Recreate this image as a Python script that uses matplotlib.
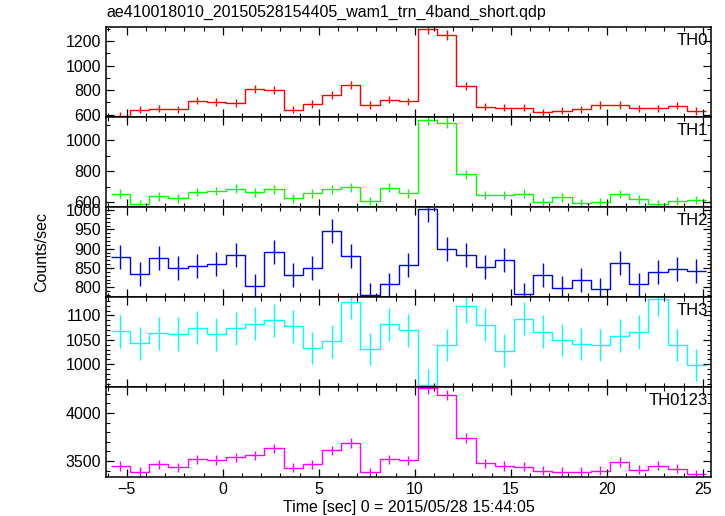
import numpy as np
import matplotlib
matplotlib.use("Agg")
import matplotlib.pyplot as plt
from matplotlib.ticker import MultipleLocator

plt.rcParams["font.family"] = ["Liberation Sans", "DejaVu Sans"]

# bin centres (s), 1 s bins
t_first = -5.33
bin_w = 1.0
n_bins = 31

th0 = [594, 641, 649, 643, 715, 706, 698, 810, 805, 641, 690, 764, 846, 682, 723, 709,
       1296, 1249, 837, 666, 657, 657, 619, 633, 643, 682, 682, 652, 652, 674, 630]
th0_err = [30, 30, 30, 30, 31, 31, 31, 33, 33, 30, 31, 32, 33, 31, 31, 31,
           40, 39, 33, 30, 30, 30, 30, 30, 30, 31, 31, 30, 30, 31, 30]

th1 = [654, 585, 637, 624, 665, 671, 686, 663, 682, 624, 656, 682, 695, 607, 692, 656,
       1133, 1114, 779, 645, 645, 654, 600, 630, 596, 600, 652, 617, 587, 607, 613]
th1_err = [28, 27, 28, 28, 28, 28, 29, 28, 29, 28, 28, 29, 29, 27, 29, 28,
           36, 36, 30, 28, 28, 28, 27, 28, 27, 27, 28, 28, 27, 27, 28]

th2 = [879, 834, 877, 850, 855, 860, 883, 804, 891, 832, 850, 946, 880, 781, 808, 859,
       1002, 900, 883, 853, 870, 782, 832, 799, 819, 795, 862, 808, 839, 847, 842]
th2_err = [31, 31, 31, 31, 31, 31, 31, 30, 31, 31, 31, 32, 31, 30, 30, 31,
           33, 31, 31, 31, 31, 30, 31, 30, 30, 30, 31, 30, 31, 31, 31]

th3 = [1068, 1043, 1063, 1062, 1075, 1061, 1074, 1083, 1090, 1078, 1034, 1047, 1127, 1032, 1082, 1070,
       958, 1039, 1120, 1081, 1028, 1093, 1067, 1050, 1041, 1039, 1058, 1066, 1133, 1039, 998]
th3_err = [34, 34, 34, 34, 34, 34, 34, 34, 34, 34, 33, 34, 35, 33, 34, 34,
           32, 33, 35, 34, 33, 34, 34, 33, 33, 33, 34, 34, 35, 33, 33]

th0123 = [3448, 3385, 3466, 3434, 3518, 3510, 3539, 3559, 3632, 3430, 3466, 3611, 3684, 3382, 3518, 3507,
          4257, 4188, 3736, 3476, 3448, 3441, 3396, 3389, 3385, 3396, 3490, 3406, 3451, 3420, 3361]
th0123_err = [48, 47, 48, 48, 49, 49, 49, 49, 50, 48, 48, 50, 51, 47, 49, 49,
              56, 55, 51, 48, 48, 48, 47, 47, 47, 47, 49, 47, 48, 48, 47]

names = ["TH0", "TH1", "TH2", "TH3", "TH0123"]
colors = ["#ff0000", "#00ff00", "#0000ff", "#00ffff", "#ff00ff"]
series = [th0, th1, th2, th3, th0123]
errors = [th0_err, th1_err, th2_err, th3_err, th0123_err]
ylims = [(582, 1315), (568, 1152), (775, 1008), (953, 1138), (3333, 4271)]
ymajor = [200, 200, 50, 50, 500]
yminor = [100, 100, 10, 10, 100]

t = t_first + bin_w * np.arange(n_bins)
edges = np.append(t - bin_w / 2, t[-1] + bin_w / 2)

fig = plt.figure(figsize=(7.25, 5.16), dpi=100)
left, right, top, bottom = 0.1462, 0.9807, 0.9477, 0.0756
h = (top - bottom) / 5

axes = []
for i in range(5):
    ax = fig.add_axes([left, top - (i + 1) * h, right - left, h])
    axes.append(ax)
    ax.stairs(series[i], edges, color=colors[i], lw=1.0, baseline=None)
    ax.errorbar(t, series[i], yerr=errors[i], fmt="none", ecolor=colors[i], elinewidth=1.0)
    ax.set_xlim(-6.08, 25.43)
    ax.set_ylim(*ylims[i])
    ax.xaxis.set_major_locator(MultipleLocator(5))
    ax.xaxis.set_minor_locator(MultipleLocator(1))
    ax.yaxis.set_major_locator(MultipleLocator(ymajor[i]))
    ax.yaxis.set_minor_locator(MultipleLocator(yminor[i]))
    ax.tick_params(which="both", direction="in", top=True, right=True, labelsize=11.5)
    ax.tick_params(which="major", length=6, width=0.9)
    ax.tick_params(which="minor", length=3, width=0.8)
    for s in ax.spines.values():
        s.set_linewidth(1.1)
    ax.text(0.995, 0.93, names[i], transform=ax.transAxes, ha="right", va="top", fontsize=12)
    if i < 4:
        ax.tick_params(labelbottom=False)

fig.text(left, 0.975, "ae410018010_20150528154405_wam1_trn_4band_short.qdp",
         ha="left", va="center", fontsize=11.5)
fig.text(0.058, (top + bottom) / 2, "Counts/sec", rotation=90, ha="center", va="center", fontsize=11.5)
axes[-1].set_xlabel("Time [sec] 0 = 2015/05/28 15:44:05", fontsize=11.5, labelpad=2)

fig.savefig("out.png", dpi=100)
